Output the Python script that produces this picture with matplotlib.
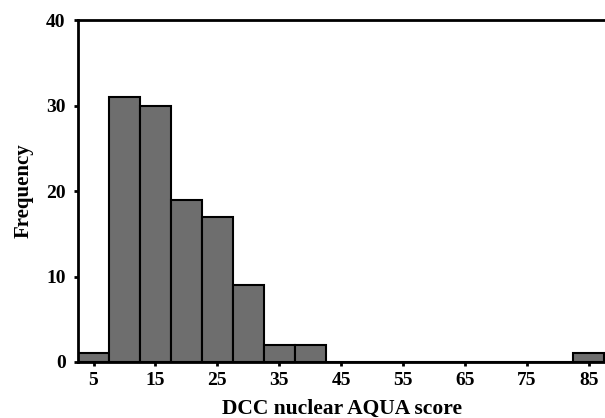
import matplotlib
matplotlib.use('Agg')
import matplotlib.pyplot as plt

# Histogram bin centres and counts
bin_centers = [5, 10, 15, 20, 25, 30, 35, 40, 45, 50, 55, 60, 65, 70, 75, 80, 85]
counts = [1, 31, 30, 19, 17, 9, 2, 2, 0, 0, 0, 0, 0, 0, 0, 0, 1]
xtick_values = [5, 15, 25, 35, 45, 55, 65, 75, 85]
ytick_values = [0, 10, 20, 30, 40]

plt.rcParams['font.family'] = ['Liberation Serif', 'DejaVu Serif']
plt.rcParams['font.weight'] = 'bold'

fig = plt.figure(figsize=(6.05, 4.18), dpi=100)
ax = fig.add_axes([0.129, 0.134, 0.871, 0.818])

ax.bar(bin_centers, counts, width=5, color='#6e6e6e', edgecolor='black', linewidth=1.5)

ax.set_xlim(2.5, 87.6)
ax.set_ylim(0, 40)
ax.set_xticks(xtick_values)
ax.set_yticks(ytick_values)
ax.tick_params(direction='out', length=3, width=2, labelsize=14)
ax.tick_params(axis='x', pad=4)
ax.tick_params(axis='y', pad=6)

for s in ['left', 'bottom', 'top']:
    ax.spines[s].set_linewidth(2)
ax.spines['right'].set_visible(False)

ax.set_xlabel('DCC nuclear AQUA score', fontsize=15.5, fontweight='bold', labelpad=7)
ax.set_ylabel('Frequency', fontsize=15, fontweight='bold', labelpad=9)
for lbl in ax.get_xticklabels() + ax.get_yticklabels():
    lbl.set_fontweight('bold')

fig.savefig('out.png', dpi=100)
